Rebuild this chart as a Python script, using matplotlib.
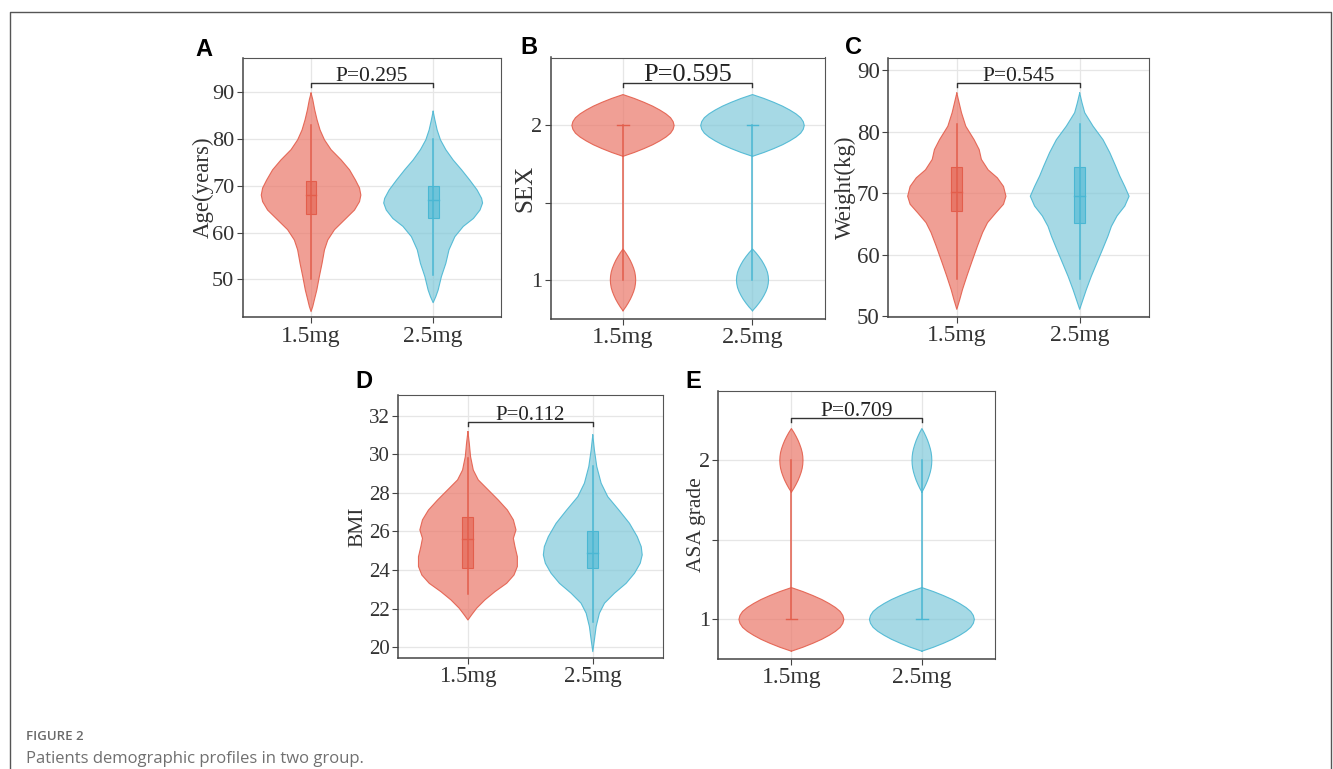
import matplotlib
matplotlib.use('Agg')
import matplotlib.pyplot as plt
from matplotlib.lines import Line2D
from matplotlib.patches import Rectangle

plt.rcParams['font.family'] = ['Liberation Serif', 'DejaVu Serif']

groups = ['1.5mg', '2.5mg']

# ---------------- violin outlines (value, half-width) ----------
# Panel A: Age
age_15_y = [89.8, 88.4, 86.2, 84.1, 81.9, 79.8, 77.7, 75.5, 73.4, 71.2, 69.5, 68.0, 66.6, 64.8,
            62.7, 60.6, 58.4, 56.3, 53.4, 50.6, 47.7, 45.6, 44.2, 43.1]
age_15_w = [0.0, 0.014, 0.03, 0.049, 0.074, 0.11, 0.164, 0.247, 0.315, 0.364, 0.397, 0.408, 0.397, 0.356,
            0.274, 0.192, 0.137, 0.11, 0.09, 0.068, 0.047, 0.027, 0.014, 0.0]
age_25_y = [85.9, 84.1, 81.9, 79.8, 77.7, 75.5, 73.4, 71.2, 69.1, 67.3, 66.3, 64.8, 63.0, 61.3,
            59.1, 56.3, 53.4, 50.6, 47.7, 46.3, 45.0]
age_25_w = [0.0, 0.014, 0.033, 0.06, 0.104, 0.164, 0.233, 0.30, 0.36, 0.397, 0.405, 0.384, 0.33, 0.247,
            0.178, 0.13, 0.104, 0.068, 0.041, 0.022, 0.0]

# Panel C: Weight
wt_15_y = [86.3, 84.7, 83.1, 80.9, 78.7, 77.1, 75.5, 73.8, 72.5, 71.1, 69.5, 68.2, 66.8, 65.2,
           63.6, 61.4, 58.7, 56.5, 54.3, 52.7, 51.1]
wt_15_w = [0.0, 0.019, 0.038, 0.073, 0.141, 0.182, 0.20, 0.255, 0.33, 0.38, 0.40, 0.38, 0.318, 0.25,
           0.21, 0.168, 0.12, 0.082, 0.046, 0.024, 0.0]
wt_25_y = [86.3, 84.7, 83.1, 80.9, 78.7, 76.6, 74.4, 72.8, 71.1, 69.5, 67.9, 66.3, 64.6, 63.0,
           60.8, 58.7, 56.5, 54.3, 52.7, 51.1]
wt_25_w = [0.0, 0.019, 0.041, 0.109, 0.19, 0.245, 0.293, 0.326, 0.367, 0.402, 0.367, 0.304, 0.258, 0.23,
           0.185, 0.141, 0.095, 0.054, 0.027, 0.0]

# Panel D: BMI
bmi_15_y = [31.17, 30.57, 29.88, 29.18, 28.67, 28.15, 27.63, 27.11, 26.6, 26.08, 25.64, 25.21, 24.69,
            24.18, 23.74, 23.31, 22.88, 22.45, 22.02, 21.67, 21.41]
bmi_15_w = [0.0, 0.011, 0.021, 0.043, 0.083, 0.163, 0.243, 0.316, 0.364, 0.385, 0.364, 0.377, 0.396,
            0.396, 0.369, 0.31, 0.217, 0.136, 0.07, 0.029, 0.0]
bmi_25_y = [31.0, 30.22, 29.36, 28.5, 27.8, 27.11, 26.42, 25.73, 25.21, 24.78, 24.35, 23.83, 23.31,
            22.8, 22.28, 21.76, 21.07, 20.38, 19.77]
bmi_25_w = [0.0, 0.013, 0.032, 0.067, 0.12, 0.209, 0.294, 0.356, 0.388, 0.396, 0.38, 0.334, 0.267,
            0.174, 0.094, 0.053, 0.027, 0.013, 0.0]

# Discrete panels (B: SEX, E: ASA grade): lobe profile
lobe_dy = [-0.2, -0.175, -0.15, -0.125, -0.1, -0.075, -0.05, -0.025, 0.0,
           0.025, 0.05, 0.075, 0.1, 0.125, 0.15, 0.175, 0.2]
lobe_frac = [0.0, 0.22, 0.41, 0.58, 0.72, 0.84, 0.93, 0.98, 1.0,
             0.98, 0.93, 0.84, 0.72, 0.58, 0.41, 0.22, 0.0]
lobe_levels = [1, 2]
sex_15_lobe_w = [0.098, 0.395]
sex_25_lobe_w = [0.124, 0.400]
asa_15_lobe_w = [0.402, 0.089]
asa_25_lobe_w = [0.402, 0.076]

# Box stats: q1, median, q3, whisker low, whisker high
age_box = [[64, 68, 71, 50, 83], [63, 67, 70, 51, 80]]
sex_box = [[2, 2, 2, 1, 2], [2, 2, 2, 1, 2]]
wt_box = [[67.1, 70.2, 74.2, 56, 81.2], [65.2, 69.6, 74.2, 56, 81.2]]
bmi_box = [[24.1, 25.6, 26.75, 22.76, 29.8], [24.1, 24.9, 26.0, 21.3, 29.4]]
asa_box = [[1, 1, 1, 1, 2], [1, 1, 1, 1, 2]]

p_values = ['P=0.295', 'P=0.595', 'P=0.545', 'P=0.112', 'P=0.709']
y_labels = ['Age(years)', 'SEX', 'Weight(kg)', 'BMI', 'ASA grade']
panel_letters = ['A', 'B', 'C', 'D', 'E']

# ---------------- styling ----------------
W, H = 1333, 769
RED_FILL, RED_EDGE = '#EB7769', '#E35E4C'
BLUE_FILL, BLUE_EDGE = '#80C9DA', '#4AB7D3'
fills = [RED_FILL, BLUE_FILL]
edges = [RED_EDGE, BLUE_EDGE]

fig = plt.figure(figsize=(W / 100, H / 100), dpi=100)


def px_axes(l, r, t, b):
    return fig.add_axes([l / W, 1 - b / H, (r - l) / W, (b - t) / H])


def draw_violin(ax, x0, ys, ws, fc, ec):
    xs = [x0 - w for w in ws] + [x0 + w for w in ws[::-1]]
    yy = list(ys) + list(ys[::-1])
    ax.fill(xs, yy, facecolor=fc, alpha=0.7, lw=0, zorder=2)
    ax.plot(xs + [xs[0]], yy + [yy[0]], color=ec, lw=0.8, alpha=0.9, zorder=3)


def draw_box(ax, x0, stats, ec):
    q1, med, q3, lo, hi = stats
    ax.plot([x0, x0], [lo, hi], color=ec, lw=1.1, zorder=4)
    bw = 0.044
    if q3 > q1:
        ax.add_patch(Rectangle((x0 - bw, q1), 2 * bw, q3 - q1, facecolor=ec, alpha=0.6,
                               edgecolor='none', zorder=4))
        ax.add_patch(Rectangle((x0 - bw, q1), 2 * bw, q3 - q1, facecolor='none',
                               edgecolor=ec, lw=0.8, zorder=5))
    ax.plot([x0 - bw, x0 + bw], [med, med], color=ec, lw=1.0, zorder=5)


def style_axes(ax, ylim, yticks, yticklabels, ylabel, ylabel_xpx, axpx, fs_tick, fs_x, fs_lab):
    l, r, t, b = axpx
    ax.set_xlim(0.44, 2.56)
    ax.set_ylim(*ylim)
    ax.set_xticks([1, 2])
    ax.set_xticklabels(groups, fontsize=fs_x, color='#333333')
    ax.set_yticks(yticks)
    ax.set_yticklabels(yticklabels, fontsize=fs_tick, color='#333333')
    ax.grid(True, color='#E6E6E6', lw=0.9)
    ax.set_axisbelow(True)
    for s in ['top', 'right']:
        ax.spines[s].set_color('#555555')
        ax.spines[s].set_linewidth(0.8)
    for s in ['left', 'bottom']:
        ax.spines[s].set_color('#444444')
        ax.spines[s].set_linewidth(1.1)
    ax.tick_params(direction='out', length=4, width=0.8, color='#444444', pad=2)
    ax.set_ylabel(ylabel, fontsize=fs_lab, color='#333333', va='center')
    ax.yaxis.set_label_coords((ylabel_xpx - l) / (r - l), 0.5)


def bracket(ax, ybar, ydrop, text, fs):
    ax.plot([1, 1, 2, 2], [ydrop, ybar, ybar, ydrop], color='#333333', lw=1.0, zorder=6, clip_on=False)
    ax.annotate(text, xy=(1.5, ybar), xytext=(0, 1.5), textcoords='offset points',
                ha='center', va='baseline', fontsize=fs, color='#222222')


# ---- Panel A
axA_px = (242.7, 501.5, 57.5, 317.2)
axA = px_axes(*axA_px)
draw_violin(axA, 1, age_15_y, age_15_w, RED_FILL, RED_EDGE)
draw_violin(axA, 2, age_25_y, age_25_w, BLUE_FILL, BLUE_EDGE)
for i in range(2):
    draw_box(axA, i + 1, age_box[i], edges[i])
style_axes(axA, (41.9, 97.4), [50, 60, 70, 80, 90], ['50', '60', '70', '80', '90'],
           y_labels[0], 203, axA_px, 16, 17, 16.5)
bracket(axA, 91.9, 91.2, p_values[0], 15.5)

# ---- Panel B
axB_px = (550.5, 825.0, 57.5, 318.5)
axB = px_axes(*axB_px)
for i, lw_list in enumerate([sex_15_lobe_w, sex_25_lobe_w]):
    draw_box(axB, i + 1, sex_box[i], edges[i])
    for lev, mw in zip(lobe_levels, lw_list):
        draw_violin(axB, i + 1, [lev + d for d in lobe_dy], [mw * f for f in lobe_frac], fills[i], edges[i])
style_axes(axB, (0.75, 2.44), [1, 1.5, 2], ['1', '', '2'],
           y_labels[1], 525, axB_px, 16, 17.5, 18)
bracket(axB, 2.274, 2.25, p_values[1], 19)

# ---- Panel C
axC_px = (888.0, 1148.5, 58.0, 316.7)
axC = px_axes(*axC_px)
draw_violin(axC, 1, wt_15_y, wt_15_w, RED_FILL, RED_EDGE)
draw_violin(axC, 2, wt_25_y, wt_25_w, BLUE_FILL, BLUE_EDGE)
for i in range(2):
    draw_box(axC, i + 1, wt_box[i], edges[i])
style_axes(axC, (49.9, 92.0), [50, 60, 70, 80, 90], ['50', '60', '70', '80', '90'],
           y_labels[2], 845, axC_px, 16.5, 17, 16.5)
bracket(axC, 87.94, 87.3, p_values[2], 15.5)

# ---- Panel D
axD_px = (398.0, 662.7, 395.0, 658.0)
axD = px_axes(*axD_px)
draw_violin(axD, 1, bmi_15_y, bmi_15_w, RED_FILL, RED_EDGE)
draw_violin(axD, 2, bmi_25_y, bmi_25_w, BLUE_FILL, BLUE_EDGE)
for i in range(2):
    draw_box(axD, i + 1, bmi_box[i], edges[i])
style_axes(axD, (19.44, 33.07), [20, 22, 24, 26, 28, 30, 32],
           ['20', '22', '24', '26', '28', '30', '32'],
           y_labels[3], 358, axD_px, 15, 16.5, 15.5)
bracket(axD, 31.69, 31.48, p_values[3], 15)

# ---- Panel E
axE_px = (718.3, 995.0, 390.7, 658.7)
axE = px_axes(*axE_px)
for i, lw_list in enumerate([asa_15_lobe_w, asa_25_lobe_w]):
    draw_box(axE, i + 1, asa_box[i], edges[i])
    for lev, mw in zip(lobe_levels, lw_list):
        draw_violin(axE, i + 1, [lev + d for d in lobe_dy], [mw * f for f in lobe_frac], fills[i], edges[i])
style_axes(axE, (0.753, 2.438), [1, 1.5, 2], ['1', '', '2'],
           y_labels[4], 696, axE_px, 16, 17, 15.5)
bracket(axE, 2.264, 2.243, p_values[4], 15.5)

# ---- panel letters
letter_pos = [(204, 49), (529, 47), (854, 47), (364, 381), (693, 381)]
for letter, (x, y) in zip(panel_letters, letter_pos):
    fig.text(x / W, 1 - y / H, letter, ha='center', va='center', fontsize=17,
             fontweight='bold', family=['Liberation Sans', 'DejaVu Sans'], color='black')

# ---- outer frame (open at the bottom)
fx = [9.5 / W, 9.5 / W, 1331 / W, 1331 / W]
fy = [0.0, 1 - 11.5 / H, 1 - 11.5 / H, 0.0]
fig.add_artist(Line2D(fx, fy, transform=fig.transFigure, color='#555555', lw=1.0))

# ---- caption
fig.text(26 / W, 1 - 737 / H, 'FIGURE 2', ha='left', va='center', fontsize=9.5,
         fontweight='semibold', family=['Open Sans', 'DejaVu Sans'], color='#6a6a6a')
fig.text(26 / W, 1 - 759 / H, 'Patients demographic profiles in two group.', ha='left', va='center',
         fontsize=12, family=['Open Sans', 'DejaVu Sans'], color='#707070')

fig.savefig('out.png', dpi=100)
